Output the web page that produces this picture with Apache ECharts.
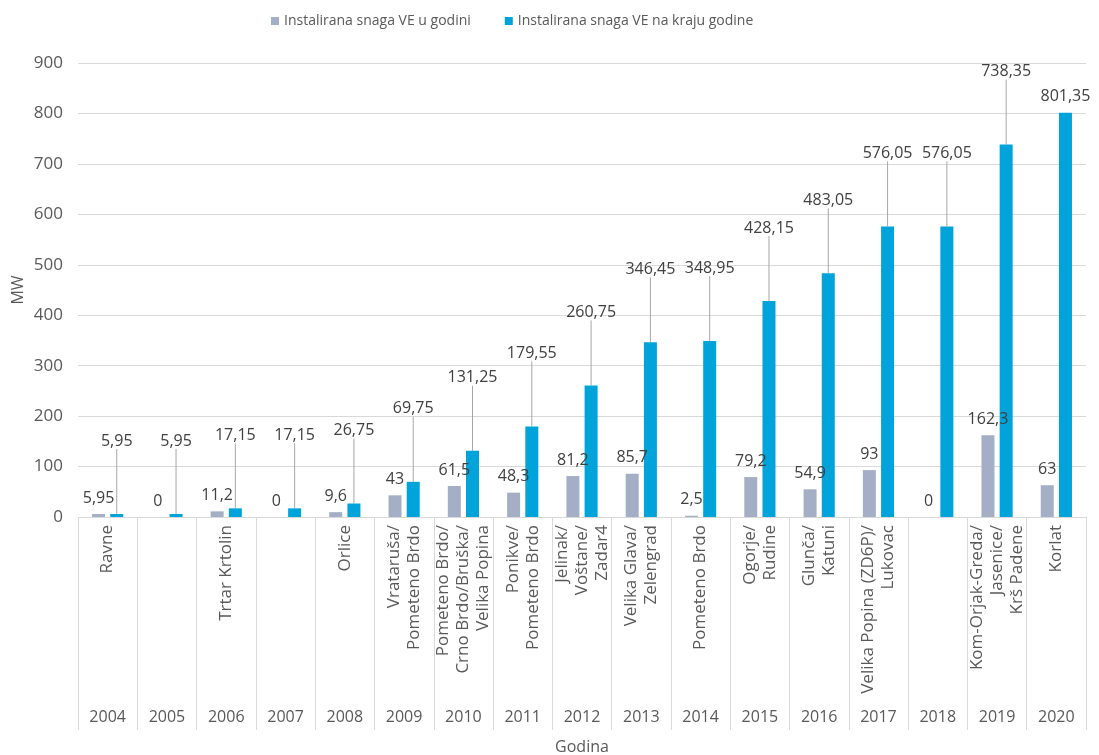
<!DOCTYPE html>
<html>
<head>
<meta charset="utf-8">
<script src="https://cdn.jsdelivr.net/npm/echarts@6/dist/echarts.min.js"></script>
<style>
html,body{margin:0;padding:0;background:#fff;}
#chart{width:1099px;height:755px;}
</style>
</head>
<body>
<div id="chart"></div>
<script>
const years = ['2004','2005','2006','2007','2008','2009','2010','2011','2012','2013','2014','2015','2016','2017','2018','2019','2020'];
const projects = ['Ravne','','Trtar Krtolin','','Orlice','Vrataruša/\nPometeno Brdo','Pometeno Brdo/\nCrno Brdo/Bruška/\nVelika Popina','Ponikve/\nPometeno Brdo','Jelinak/\nVoštane/\nZadar4','Velika Glava/\nZelengrad','Pometeno Brdo','Ogorje/\nRudine','Glunča/\nKatuni','Velika Popina (ZD6P)/\nLukovac','','Kom-Orjak-Greda/\nJasenice/\nKrš Padene','Korlat'];
const annualMW = [5.95,0,11.2,0,9.6,43,61.5,48.3,81.2,85.7,2.5,79.2,54.9,93,0,162.3,63];
const cumulativeMW = [5.95,5.95,17.15,17.15,26.75,69.75,131.25,179.55,260.75,346.45,348.95,428.15,483.05,576.05,576.05,738.35,801.35];
const yTicks = {min:0, max:900, interval:100};
const seriesNames = ['Instalirana snaga VE u godini','Instalirana snaga VE na kraju godine'];

const FONT = '"Open Sans", "DejaVu Sans", sans-serif';
const fmt = p => String(p.value).replace('.', ',');
// a cumulative label is lifted onto a leader line only if there is room above the bar
const canLift = v => v + 150 <= yTicks.max + 20;
const cumulativeData = cumulativeMW.map(v => ({value:v, labelLine:{show:canLift(v)}}));

const chart = echarts.init(document.getElementById('chart'), null, {renderer:'canvas'});
chart.setOption({
  backgroundColor:'#fff',
  animation:false,
  textStyle:{fontFamily:FONT},
  legend:{
    left:266, top:9,
    icon:'rect', itemWidth:8, itemHeight:8, itemGap:34,
    textStyle:{fontFamily:FONT, fontSize:14, color:'#595959'},
    data:seriesNames
  },
  grid:{left:78, right:13, top:63, bottom:238, containLabel:false, outerBoundsMode:'none'},
  xAxis:[{
    type:'category', position:'bottom', data:projects,
    axisLine:{show:true, lineStyle:{color:'#d9d9d9', width:1}},
    axisTick:{show:true, interval:0, length:213, lineStyle:{color:'#d9d9d9', width:1}},
    axisLabel:{interval:0, rotate:90, margin:8, fontFamily:FONT, fontSize:17, lineHeight:20, color:'#595959'},
    splitLine:{show:false}
  },{
    type:'category', position:'bottom', data:years,
    axisLine:{show:false}, axisTick:{show:false},
    axisLabel:{interval:0, margin:192, fontFamily:FONT, fontSize:16, color:'#595959'},
    name:'Godina', nameLocation:'middle', nameGap:222, nameMoveOverlap:false,
    nameTextStyle:{fontFamily:FONT, fontSize:16, color:'#595959'}
  }],
  yAxis:{
    type:'value', min:yTicks.min, max:yTicks.max, interval:yTicks.interval,
    axisLine:{show:false}, axisTick:{show:false},
    axisLabel:{margin:15, fontFamily:FONT, fontSize:17, color:'#595959'},
    splitLine:{lineStyle:{color:'#d9d9d9', width:1}},
    name:'MW', nameLocation:'middle', nameGap:52, nameRotate:90, nameMoveOverlap:false,
    nameTextStyle:{fontFamily:FONT, fontSize:16, color:'#595959'}
  },
  series:[{
    name:seriesNames[0], type:'bar', xAxisIndex:0, data:annualMW,
    barWidth:13, barGap:'40%',
    itemStyle:{color:'#a4afc6'},
    label:{show:true, position:'top', distance:8, formatter:fmt, fontFamily:FONT, fontSize:16, color:'#404040'}
  },{
    name:seriesNames[1], type:'bar', xAxisIndex:0, data:cumulativeData,
    barWidth:13,
    itemStyle:{color:'#00a3da'},
    label:{show:true, position:'top', distance:8, formatter:fmt, fontFamily:FONT, fontSize:16, color:'#404040'},
    labelLine:{show:true, lineStyle:{color:'#a6a6a6', width:1}},
    labelLayout:function(p){
      return canLift(cumulativeMW[p.dataIndex]) ? {dy:-57} : {};
    }
  }]
});
</script>
</body>
</html>
